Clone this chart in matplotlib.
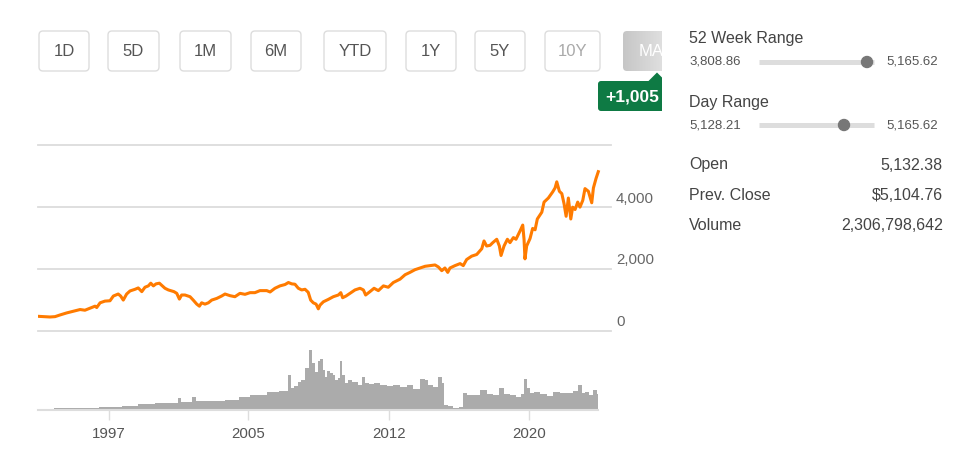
import numpy as np
import matplotlib
matplotlib.use("Agg")
import matplotlib.pyplot as plt
from matplotlib.patches import FancyBboxPatch, Polygon, Circle
from matplotlib.colors import LinearSegmentedColormap
from matplotlib.transforms import Bbox, blended_transform_factory

plt.rcParams['font.family'] = ['Liberation Sans', 'DejaVu Sans']

# index close (decimal year, level)
price_years = [
    1994.20, 1994.84, 1995.11, 1995.38, 1995.73, 1996.09, 1996.45, 1996.71, 1996.98,
    1997.25, 1997.34, 1997.52, 1997.78, 1998.05, 1998.23, 1998.49, 1998.62, 1998.76,
    1998.94, 1999.12, 1999.39, 1999.56, 1999.75, 1999.92, 2000.10, 2000.23, 2000.37,
    2000.51, 2000.69, 2000.81, 2000.99, 2001.17, 2001.35, 2001.47, 2001.62, 2001.76,
    2001.88, 2002.06, 2002.33, 2002.50, 2002.69, 2002.83, 2002.95, 2003.13, 2003.31,
    2003.49, 2003.76, 2004.02, 2004.20, 2004.47, 2004.73, 2005.00, 2005.27, 2005.54,
    2005.80, 2006.07, 2006.43, 2006.61, 2006.87, 2007.14, 2007.41, 2007.59, 2007.77,
    2007.94, 2008.12, 2008.30, 2008.48, 2008.65, 2008.78, 2008.92, 2009.07, 2009.19,
    2009.28, 2009.46, 2009.72, 2009.99, 2010.26, 2010.39, 2010.49, 2010.67, 2010.88,
    2011.15, 2011.42, 2011.60, 2011.72, 2011.95, 2012.17, 2012.40, 2012.67, 2012.93,
    2013.20, 2013.56, 2013.83, 2014.09, 2014.36, 2014.63, 2014.90, 2015.16, 2015.43,
    2015.61, 2015.79, 2015.96, 2016.11, 2016.23, 2016.50, 2016.77, 2016.94, 2017.12,
    2017.39, 2017.66, 2017.93, 2018.05, 2018.19, 2018.37, 2018.52, 2018.73, 2018.87,
    2018.96, 2019.12, 2019.30, 2019.44, 2019.62, 2019.76, 2019.98, 2020.12, 2020.19,
    2020.24, 2020.33, 2020.51, 2020.65, 2020.78, 2020.90, 2021.14, 2021.26, 2021.49,
    2021.72, 2021.85, 2021.94, 2022.08, 2022.21, 2022.33, 2022.44, 2022.56, 2022.69,
    2022.79, 2022.92, 2023.06, 2023.18, 2023.33, 2023.45, 2023.63, 2023.81, 2023.90,
    2024.04, 2024.16,
]
price_close = [
    459, 437, 448, 503, 568, 623, 678, 656, 721,
    787, 743, 896, 951, 962, 1115, 1180, 1115, 984,
    1180, 1279, 1333, 1377, 1257, 1399, 1443, 1530, 1443,
    1508, 1530, 1465, 1366, 1312, 1279, 1257, 1202, 1016,
    1148, 1148, 1093, 984, 853, 787, 896, 853, 896,
    984, 1038, 1115, 1180, 1126, 1093, 1202, 1170, 1224,
    1224, 1290, 1290, 1246, 1366, 1443, 1487, 1552, 1508,
    1497, 1366, 1312, 1333, 1235, 984, 896, 853, 700,
    820, 929, 1005, 1093, 1148, 1224, 1060, 1115, 1202,
    1312, 1366, 1312, 1148, 1257, 1366, 1290, 1443, 1399,
    1552, 1661, 1804, 1880, 1967, 2022, 2077, 2099, 2120,
    2055, 1935, 2022, 1880, 2022, 2099, 2164, 2099, 2295,
    2405, 2459, 2645, 2896, 2733, 2754, 2842, 2951, 2733,
    2426, 2733, 2951, 2842, 3006, 2951, 3224, 3410, 2951,
    2317, 2733, 2973, 3301, 3257, 3607, 3826, 4153, 4285,
    4481, 4612, 4809, 4503, 4427, 4099, 3694, 4285, 3607,
    3990, 3913, 4153, 3990, 4208, 4590, 4503, 4131, 4612,
    4918, 5137,
]

# traded volume, billions of shares
vol_years = [
    1995.06, 1995.38, 1995.70, 1996.02, 1996.34, 1996.66, 1996.98, 1997.30, 1997.62,
    1997.94, 1998.26, 1998.59, 1998.80, 1999.12, 1999.44, 1999.65, 1999.98, 2000.30,
    2000.56, 2000.88, 2001.26, 2001.58, 2001.79, 2001.95, 2002.27, 2002.60, 2002.70,
    2003.02, 2003.40, 2003.76, 2004.04, 2004.41, 2004.83, 2005.06, 2005.36, 2005.70,
    2006.02, 2006.25, 2006.61, 2006.97, 2007.25, 2007.50, 2007.64, 2007.78, 2008.03,
    2008.16, 2008.39, 2008.57, 2008.80, 2008.92, 2009.10, 2009.24, 2009.37, 2009.46,
    2009.60, 2009.72, 2009.91, 2010.03, 2010.17, 2010.31, 2010.40, 2010.53, 2010.71,
    2010.88, 2011.15, 2011.42, 2011.60, 2011.78, 2012.05, 2012.31, 2012.67, 2013.02,
    2013.38, 2013.74, 2014.09, 2014.45, 2014.80, 2014.99, 2015.16, 2015.43, 2015.70,
    2015.87, 2015.98, 2016.23, 2016.59, 2016.86, 2016.94, 2017.30, 2017.66, 2018.01,
    2018.37, 2018.73, 2019.00, 2019.26, 2019.62, 2019.88, 2020.15, 2020.24, 2020.42,
    2020.60, 2020.87, 2021.22, 2021.58, 2021.94, 2022.29, 2022.65, 2022.92, 2023.18,
    2023.36, 2023.54, 2023.81, 2023.99, 2024.16,
]
vol_billions = [
    0.28, 0.28, 0.33, 0.33, 0.33, 0.35, 0.34, 0.36, 0.50,
    0.55, 0.55, 0.57, 0.72, 0.70, 0.74, 0.95, 0.93, 1.00,
    1.15, 1.18, 1.20, 1.15, 1.95, 1.40, 1.38, 2.20, 1.50,
    1.48, 1.52, 1.55, 1.53, 1.65, 1.70, 2.10, 2.12, 2.50,
    2.48, 2.52, 3.05, 3.05, 3.10, 3.20, 5.85, 3.60, 4.00,
    4.65, 5.00, 6.95, 10.0, 7.80, 6.35, 8.20, 8.45, 6.65,
    5.55, 6.55, 6.20, 5.85, 5.00, 5.30, 8.20, 5.85, 4.55,
    5.00, 4.70, 4.15, 5.45, 4.55, 4.35, 4.45, 4.15, 4.00,
    4.15, 3.90, 4.15, 3.45, 5.10, 5.00, 4.15, 3.90, 5.45,
    4.55, 0.85, 0.65, 0.40, 0.55, 2.80, 2.50, 2.50, 3.35,
    2.65, 2.50, 3.60, 2.65, 2.50, 2.20, 2.65, 5.10, 3.60,
    2.90, 3.05, 2.65, 2.35, 3.05, 2.80, 2.90, 3.20, 4.15,
    2.90, 3.05, 2.50, 3.35, 2.65,
]

y_ticks = [0, 2000, 4000, 6000]
y_labels = ['0', '2,000', '4,000', '']
year_ticks = [1997.97, 2005.43, 2012.97, 2020.45]
year_labels = ['1997', '2005', '2012', '2020']

range_buttons = ['1D', '5D', '1M', '6M', 'YTD', '1Y', '5Y', '10Y', 'MAX']
change_badge = '+1,005'
week_low, week_high = '3,808.86', '5,165.62'
day_low, day_high = '5,128.21', '5,165.62'
stats = [('Open', '5,132.38'), ('Prev. Close', '$5,104.76'), ('Volume', '2,306,798,642')]

W, H = 979, 463
fig = plt.figure(figsize=(W / 100, H / 100), dpi=100)


def px_axes(x0, y0, x1, y1):
    return fig.add_axes([x0 / W, 1 - y1 / H, (x1 - x0) / W, (y1 - y0) / H])


# price panel
ax = px_axes(38, 145, 611, 330.5)
ax.plot(price_years, price_close, color='#ff7b00', lw=2.2, solid_joinstyle='round', zorder=3)
ax.set_xlim(1994.2, 2024.84)
ax.set_ylim(0, 6000)
ax.set_yticks(y_ticks)
ax.set_xticks([])
ax.tick_params(length=0, labelleft=False)
ax.grid(axis='y', color='#dcdcdc', lw=1.3)
for gl in ax.get_ygridlines():
    gl.set_clip_on(False)
for s in ax.spines.values():
    s.set_visible(False)
ax.patch.set_alpha(0)
lab_tr = blended_transform_factory(ax.transAxes, ax.transData)
for v, lab in zip(y_ticks, y_labels):
    ax.annotate(lab, xy=(1, v), xycoords=lab_tr, xytext=(3.6, 6), textcoords='offset points',
                ha='left', va='center', fontsize=10.8, color='#666666')

# volume panel
vx = px_axes(38, 340, 598.3, 410)
vx.fill_between(vol_years, vol_billions, step='mid', color='#ababab', lw=0)
vx.set_xlim(1994.2, 2024.16)
vx.set_ylim(0, 11.67)
vx.set_yticks([])
vx.set_xticks(year_ticks)
vx.set_xticklabels(year_labels)
vx.tick_params(axis='x', length=7.2, width=1, color='#dddddd', labelsize=10.8,
               labelcolor='#555555', pad=5)
for k in ['top', 'left', 'right']:
    vx.spines[k].set_visible(False)
vx.spines['bottom'].set_color('#dddddd')
vx.spines['bottom'].set_linewidth(1.5)
vx.patch.set_alpha(0)

# buttons, badge and the quote panel, laid out in pixels
ui = fig.add_axes([0, 0, 1, 1], zorder=-1)
ui.axis('off')
clip = Bbox.from_extents(0, 0, 662, H)

btn_x = [(39, 89), (108, 159), (180, 231), (251, 301), (324, 386),
         (406, 456), (475, 525), (545, 600), (623, 690)]
for (x0, x1), lab in zip(btn_x, range_buttons):
    active = lab == 'MAX'
    box = FancyBboxPatch((x0, 31), x1 - x0, 40, boxstyle='round,pad=0,rounding_size=4',
                         fc='none' if active else 'white',
                         ec='none' if active else '#dddddd', lw=1)
    ui.add_patch(box)
    box.set_clip_box(clip)
    if active:
        grad = np.linspace(0, 1, 256).reshape(1, -1)
        cm = LinearSegmentedColormap.from_list('btn', ['#c6c6c6', '#f2f2f2'])
        im = ui.imshow(grad, extent=(x0, x1, 71, 31), cmap=cm, aspect='auto', zorder=1)
        im.set_clip_path(box)
        im.set_clip_box(clip)
    color = {'MAX': 'white', '10Y': '#aaaaaa'}.get(lab, '#555555')
    t = ui.text((x0 + x1) / 2, 51.5, lab, ha='center', va='center', fontsize=12,
                color=color, zorder=2)
    t.set_clip_box(clip)
    t.set_clip_on(True)

badge = FancyBboxPatch((598, 81), 100, 30, boxstyle='round,pad=0,rounding_size=3',
                       fc='#0e7a44', ec='none', zorder=3)
ui.add_patch(badge)
badge.set_clip_box(clip)
tip = Polygon([(648, 81.5), (657, 72.5), (666, 81.5)], closed=True, fc='#0e7a44', ec='none', zorder=3)
ui.add_patch(tip)
tip.set_clip_box(clip)
t = ui.text(605, 96.5, change_badge, ha='left', va='center', fontsize=12.5,
            fontweight='bold', color='white', zorder=4)
t.set_clip_box(clip)
t.set_clip_on(True)

ui.text(689, 39, '52 Week Range', fontsize=11.5, color='#444444', va='center')
ui.text(689, 62, week_low, fontsize=9.5, color='#555555', va='center')
ui.plot([759, 874], [62, 62], lw=3.6, color='#dddddd', solid_capstyle='butt')
ui.add_patch(Circle((867, 62), 5.5, color='#777777', zorder=3))
ui.text(886, 62, week_high, fontsize=9.5, color='#555555', va='center')

ui.text(689, 102, 'Day Range', fontsize=11.5, color='#444444', va='center')
ui.text(689, 125, day_low, fontsize=9.5, color='#555555', va='center')
ui.plot([759, 874], [125, 125], lw=3.6, color='#dddddd', solid_capstyle='butt')
ui.add_patch(Circle((844, 125), 5.5, color='#777777', zorder=3))
ui.text(886, 125, day_high, fontsize=9.5, color='#555555', va='center')

for i, (name, val) in enumerate(stats):
    y = 165 + 30 * i
    ui.text(689, y, name, fontsize=11.5, color='#444444', va='center')
    ui.text(943, y, val, fontsize=11.5, color='#444444', va='center', ha='right')

ui.set_xlim(0, W)
ui.set_ylim(H, 0)

fig.savefig('out.png', dpi=100, facecolor='white')
